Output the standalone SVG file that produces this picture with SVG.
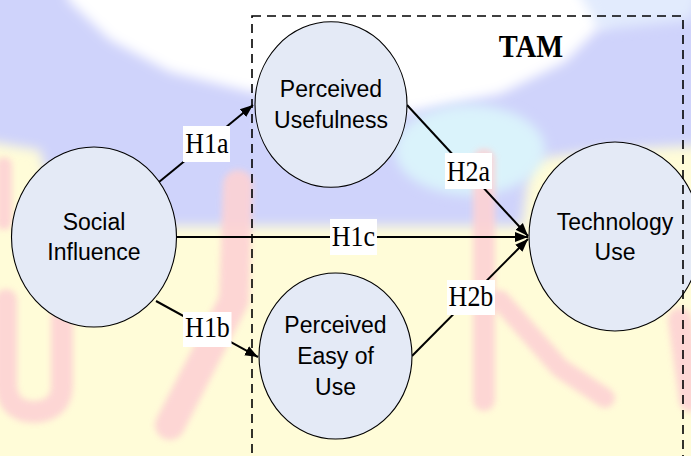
<svg xmlns="http://www.w3.org/2000/svg" width="691" height="456" viewBox="0 0 691 456">
<style>
.node ellipse{fill:#e4eaf6;stroke:#000;stroke-width:1.1}
.nt{font-family:"Liberation Sans",Arial,sans-serif;font-size:23px;text-anchor:middle;fill:#000}
.lb rect{fill:#fff}
.lb text{font-family:"Liberation Serif","Times New Roman",serif;font-size:26px;text-anchor:middle;fill:#000}
.conn line{stroke:#000;stroke-width:2;marker-end:url(#ah)}
.pk{fill:none;stroke:#fdd2d4;stroke-linecap:round;stroke-linejoin:round}
</style>
<defs>
<marker id="ah" markerUnits="userSpaceOnUse" markerWidth="14" markerHeight="12" refX="13" refY="5" orient="auto" viewBox="0 0 14 10">
<path d="M0,0 L13,5 L0,10 Z" fill="#000"/>
</marker>
<filter id="bl" x="-20%" y="-20%" width="140%" height="140%"><feGaussianBlur stdDeviation="6"/></filter>
<filter id="bl2" x="-20%" y="-20%" width="140%" height="140%"><feGaussianBlur stdDeviation="3"/></filter>
</defs>
<g id="background">
<rect width="691" height="456" fill="#fffcd8"/>
<path d="M-20,-20 L711,-20 L711,145 L600,150 L530,160 L522,226 L60,226 L40,150 L-20,140 Z" fill="#cfd3fb" filter="url(#bl)"/>
<path d="M60,-40 L68,0 L110,40 L170,72 L250,92 L400,114 L500,94 L565,62 L605,22 L640,-40 Z" fill="#ffffff" filter="url(#bl)"/>
<path d="M560,-40 L600,30 L691,20 L711,-40 Z" fill="#e2ebfd" filter="url(#bl)"/>
<ellipse cx="470" cy="150" rx="75" ry="45" fill="#daf3fb" filter="url(#bl)"/>
<ellipse cx="320" cy="125" rx="60" ry="22" fill="#e8f6fd" filter="url(#bl)"/>
<g filter="url(#bl2)" opacity="0.9">
<path class="pk" stroke-width="22" d="M6,300 L6,385 Q8,412 35,412 Q62,410 62,385 L62,318"/>
<path class="pk" stroke-width="30" d="M238,185 L234,300 L170,425"/>
<path class="pk" stroke-width="22" d="M484,160 L484,400"/>
<path class="pk" stroke-width="20" d="M500,300 L560,368 L605,398"/>
<path class="pk" stroke-width="24" d="M680,320 L691,400"/>
<path class="pk" stroke-width="16" d="M4,165 L4,222"/>
</g>
</g>
<g id="connectors" class="conn">
<line x1="159" y1="182" x2="253" y2="105"/>
<line x1="156" y1="301" x2="258" y2="357"/>
<line x1="177" y1="237" x2="528" y2="237"/>
<line x1="407" y1="105" x2="528" y2="236"/>
<line x1="412" y1="356" x2="528" y2="239"/>
</g>
<g id="social-influence" class="node">
<ellipse cx="94" cy="237" rx="82.5" ry="90"/>
<text class="nt" x="94" y="230">Social</text>
<text class="nt" x="94" y="260">Influence</text>
</g>
<g id="perceived-usefulness" class="node">
<ellipse cx="331" cy="104.5" rx="76" ry="82.7"/>
<text class="nt" x="331" y="97">Perceived</text>
<text class="nt" x="331" y="128">Usefulness</text>
</g>
<g id="perceived-easy-of-use" class="node">
<ellipse cx="335.5" cy="356" rx="76.5" ry="83"/>
<text class="nt" x="335.5" y="333">Perceived</text>
<text class="nt" x="335.5" y="364">Easy of</text>
<text class="nt" x="335.5" y="395">Use</text>
</g>
<g id="technology-use" class="node">
<ellipse cx="615" cy="236.5" rx="86" ry="94.5"/>
<text class="nt" x="615" y="230">Technology</text>
<text class="nt" x="615" y="260">Use</text>
</g>
<g id="tam">
<rect x="252" y="16" width="431" height="470" fill="none" stroke="#000" stroke-width="1.6" stroke-dasharray="9 6"/>
<text x="531" y="57" transform="translate(531 57) scale(1 1.12) translate(-531 -57)" font-family="'Liberation Serif','Times New Roman',serif" font-weight="bold" font-size="28.5" text-anchor="middle">TAM</text>
</g>
<g id="labels" class="lb">
<g id="lbl-h1a"><rect x="183" y="126" width="47" height="36"/><text x="207" y="153" transform="translate(207 153) scale(1 1.15) translate(-207 -153)">H1a</text></g>
<g id="lbl-h1b"><rect x="183" y="312" width="48.5" height="35"/><text x="207.5" y="337.5" transform="translate(207.5 337.5) scale(1 1.15) translate(-207.5 -337.5)">H1b</text></g>
<g id="lbl-h1c"><rect x="330" y="219" width="47" height="36"/><text x="353.5" y="246" transform="translate(353.5 246) scale(1 1.15) translate(-353.5 -246)">H1c</text></g>
<g id="lbl-h2a"><rect x="445" y="153" width="47" height="36"/><text x="468.5" y="181" transform="translate(468.5 181) scale(1 1.15) translate(-468.5 -181)">H2a</text></g>
<g id="lbl-h2b"><rect x="447" y="280" width="48" height="35"/><text x="471" y="306" transform="translate(471 306) scale(1 1.15) translate(-471 -306)">H2b</text></g>
</g>
</svg>
